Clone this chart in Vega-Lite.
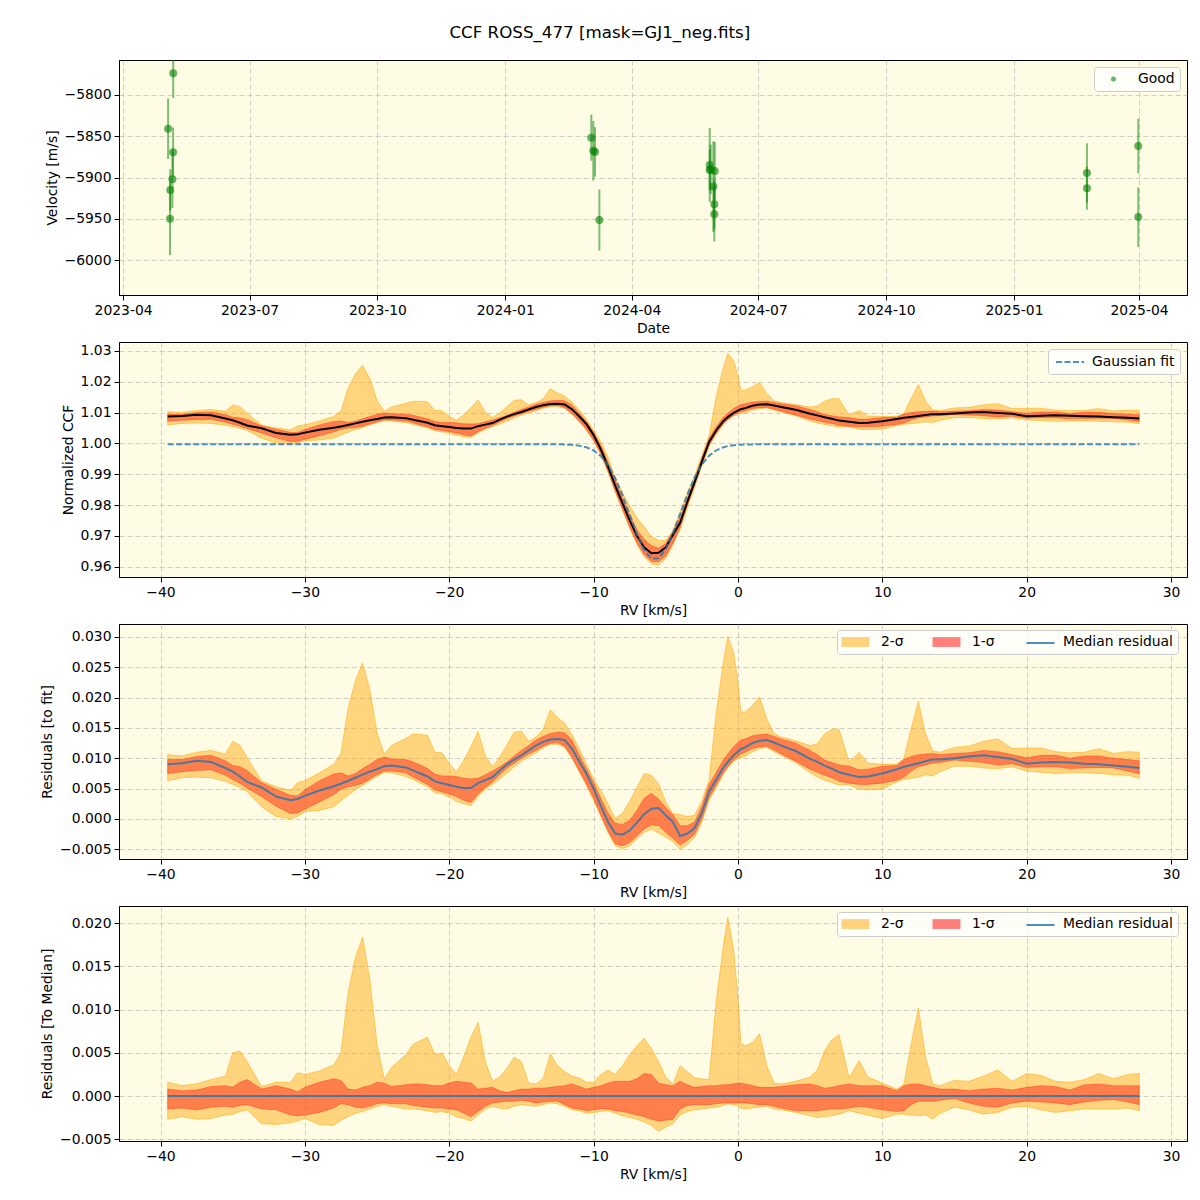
{
"$schema": "https://vega.github.io/schema/vega-lite/v6.json",
"autosize": {"type": "pad"},
"padding": {"left": 40, "top": 24, "right": 12, "bottom": 10},
"title": {"text": "CCF ROSS_477 [mask=GJ1_neg.fits]", "fontSize": 16.7, "fontWeight": "normal", "font": "DejaVu Sans", "color": "#000000", "anchor": "middle", "dx": -14, "offset": 18},
"spacing": 47,
"bounds": "flush",
"datasets": {
"rv": [
{"t":"2023-05-07T02:00:00Z","v":-5773.7,"lo":-5803.7,"hi":-5743.7},
{"t":"2023-05-03T10:00:00Z","v":-5841,"lo":-5877.5,"hi":-5804.5},
{"t":"2023-05-07T00:00:00Z","v":-5869.5,"lo":-5899.5,"hi":-5839.5},
{"t":"2023-05-06T12:00:00Z","v":-5902,"lo":-5937,"hi":-5867},
{"t":"2023-05-05T00:00:00Z","v":-5915,"lo":-5940,"hi":-5890},
{"t":"2023-05-04T19:00:00Z","v":-5950,"lo":-5994,"hi":-5906},
{"t":"2024-03-02T22:00:00Z","v":-5851.7,"lo":-5879.7,"hi":-5823.7},
{"t":"2024-03-04T08:00:00Z","v":-5867.5,"lo":-5903.5,"hi":-5831.5},
{"t":"2024-03-05T14:00:00Z","v":-5869,"lo":-5899,"hi":-5839},
{"t":"2024-03-08T17:00:00Z","v":-5951.5,"lo":-5988.5,"hi":-5914.5},
{"t":"2024-05-27T02:00:00Z","v":-5884.8,"lo":-5929.8,"hi":-5839.8},
{"t":"2024-05-27T19:00:00Z","v":-5890,"lo":-5920,"hi":-5860},
{"t":"2024-05-27T02:00:00Z","v":-5891,"lo":-5916,"hi":-5866},
{"t":"2024-05-30T17:00:00Z","v":-5892,"lo":-5927,"hi":-5857},
{"t":"2024-05-29T17:00:00Z","v":-5911,"lo":-5966,"hi":-5856},
{"t":"2024-05-30T10:00:00Z","v":-5932.5,"lo":-5962.5,"hi":-5902.5},
{"t":"2024-05-30T10:00:00Z","v":-5944.6,"lo":-5977.6,"hi":-5911.6},
{"t":"2025-02-22T12:00:00Z","v":-5894.5,"lo":-5930.5,"hi":-5858.5},
{"t":"2025-02-22T12:00:00Z","v":-5913,"lo":-5939,"hi":-5887},
{"t":"2025-03-31T10:00:00Z","v":-5861.8,"lo":-5894.8,"hi":-5828.8},
{"t":"2025-03-31T10:00:00Z","v":-5948,"lo":-5984,"hi":-5912}
],
"ccf": [
{"rv":-39.5,"f":0.9997,"c":1.0087,"c2l":1.0060,"c1l":1.0072,"c1h":1.0095,"c2h":1.0103,"r":0.0090,"r2l":0.0063,"r1l":0.0075,"r1h":0.0098,"r2h":0.0106,"d2l":-0.0027,"d1l":-0.0015,"d1h":0.0008,"d2h":0.0016,"z":0},
{"rv":-38.5,"f":0.9997,"c":1.0089,"c2l":1.0065,"c1l":1.0075,"c1h":1.0095,"c2h":1.0101,"r":0.0092,"r2l":0.0068,"r1l":0.0078,"r1h":0.0098,"r2h":0.0104,"d2l":-0.0024,"d1l":-0.0014,"d1h":0.0006,"d2h":0.0012,"z":0},
{"rv":-37.5,"f":0.9997,"c":1.0093,"c2l":1.0066,"c1l":1.0077,"c1h":1.0100,"c2h":1.0107,"r":0.0096,"r2l":0.0069,"r1l":0.0080,"r1h":0.0103,"r2h":0.0110,"d2l":-0.0027,"d1l":-0.0016,"d1h":0.0007,"d2h":0.0014,"z":0},
{"rv":-36.5,"f":0.9997,"c":1.0091,"c2l":1.0065,"c1l":1.0078,"c1h":1.0102,"c2h":1.0110,"r":0.0094,"r2l":0.0068,"r1l":0.0081,"r1h":0.0105,"r2h":0.0113,"d2l":-0.0026,"d1l":-0.0013,"d1h":0.0011,"d2h":0.0019,"z":0},
{"rv":-35.5,"f":0.9997,"c":1.0081,"c2l":1.0059,"c1l":1.0069,"c1h":1.0093,"c2h":1.0104,"r":0.0084,"r2l":0.0062,"r1l":0.0072,"r1h":0.0096,"r2h":0.0107,"d2l":-0.0022,"d1l":-0.0012,"d1h":0.0012,"d2h":0.0023,"z":0},
{"rv":-35,"f":0.9997,"c":1.0075,"c2l":1.0054,"c1l":1.0062,"c1h":1.0085,"c2h":1.0125,"r":0.0078,"r2l":0.0057,"r1l":0.0065,"r1h":0.0088,"r2h":0.0128,"d2l":-0.0021,"d1l":-0.0013,"d1h":0.0010,"d2h":0.0050,"z":0},
{"rv":-34.5,"f":0.9997,"c":1.0067,"c2l":1.0049,"c1l":1.0056,"c1h":1.0083,"c2h":1.0119,"r":0.0070,"r2l":0.0052,"r1l":0.0059,"r1h":0.0086,"r2h":0.0122,"d2l":-0.0018,"d1l":-0.0011,"d1h":0.0016,"d2h":0.0052,"z":0},
{"rv":-34,"f":0.9997,"c":1.0058,"c2l":1.0042,"c1l":1.0048,"c1h":1.0077,"c2h":1.0098,"r":0.0061,"r2l":0.0045,"r1l":0.0051,"r1h":0.0080,"r2h":0.0101,"d2l":-0.0016,"d1l":-0.0010,"d1h":0.0019,"d2h":0.0040,"z":0},
{"rv":-33,"f":0.9997,"c":1.0049,"c2l":1.0017,"c1l":1.0034,"c1h":1.0057,"c2h":1.0060,"r":0.0052,"r2l":0.0020,"r1l":0.0037,"r1h":0.0060,"r2h":0.0063,"d2l":-0.0032,"d1l":-0.0015,"d1h":0.0008,"d2h":0.0011,"z":0},
{"rv":-32,"f":0.9997,"c":1.0034,"c2l":1.0001,"c1l":1.0018,"c1h":1.0046,"c2h":1.0050,"r":0.0037,"r2l":0.0004,"r1l":0.0021,"r1h":0.0049,"r2h":0.0053,"d2l":-0.0033,"d1l":-0.0016,"d1h":0.0012,"d2h":0.0016,"z":0},
{"rv":-31,"f":0.9997,"c":1.0028,"c2l":0.9997,"c1l":1.0006,"c1h":1.0036,"c2h":1.0044,"r":0.0031,"r2l":0.0000,"r1l":0.0009,"r1h":0.0039,"r2h":0.0047,"d2l":-0.0031,"d1l":-0.0022,"d1h":0.0008,"d2h":0.0016,"z":0},
{"rv":-30.5,"f":0.9997,"c":1.0030,"c2l":1.0001,"c1l":1.0007,"c1h":1.0035,"c2h":1.0057,"r":0.0033,"r2l":0.0004,"r1l":0.0010,"r1h":0.0038,"r2h":0.0060,"d2l":-0.0029,"d1l":-0.0023,"d1h":0.0005,"d2h":0.0027,"z":0},
{"rv":-30,"f":0.9997,"c":1.0035,"c2l":1.0009,"c1l":1.0013,"c1h":1.0045,"c2h":1.0060,"r":0.0038,"r2l":0.0012,"r1l":0.0016,"r1h":0.0048,"r2h":0.0063,"d2l":-0.0026,"d1l":-0.0022,"d1h":0.0010,"d2h":0.0025,"z":0},
{"rv":-29,"f":0.9997,"c":1.0044,"c2l":1.0011,"c1l":1.0025,"c1h":1.0060,"c2h":1.0073,"r":0.0047,"r2l":0.0014,"r1l":0.0028,"r1h":0.0063,"r2h":0.0076,"d2l":-0.0033,"d1l":-0.0019,"d1h":0.0016,"d2h":0.0029,"z":0},
{"rv":-28,"f":0.9997,"c":1.0051,"c2l":1.0017,"c1l":1.0037,"c1h":1.0071,"c2h":1.0087,"r":0.0054,"r2l":0.0020,"r1l":0.0040,"r1h":0.0074,"r2h":0.0090,"d2l":-0.0034,"d1l":-0.0014,"d1h":0.0020,"d2h":0.0036,"z":0},
{"rv":-27.5,"f":0.9997,"c":1.0055,"c2l":1.0027,"c1l":1.0046,"c1h":1.0073,"c2h":1.0105,"r":0.0058,"r2l":0.0030,"r1l":0.0049,"r1h":0.0076,"r2h":0.0108,"d2l":-0.0028,"d1l":-0.0009,"d1h":0.0018,"d2h":0.0050,"z":0},
{"rv":-27,"f":0.9997,"c":1.0060,"c2l":1.0036,"c1l":1.0050,"c1h":1.0068,"c2h":1.0180,"r":0.0063,"r2l":0.0039,"r1l":0.0053,"r1h":0.0071,"r2h":0.0183,"d2l":-0.0024,"d1l":-0.0010,"d1h":0.0008,"d2h":0.0120,"z":0},
{"rv":-26.5,"f":0.9997,"c":1.0065,"c2l":1.0045,"c1l":1.0052,"c1h":1.0072,"c2h":1.0225,"r":0.0068,"r2l":0.0048,"r1l":0.0055,"r1h":0.0075,"r2h":0.0228,"d2l":-0.0020,"d1l":-0.0013,"d1h":0.0007,"d2h":0.0160,"z":0},
{"rv":-26,"f":0.9997,"c":1.0070,"c2l":1.0052,"c1l":1.0056,"c1h":1.0080,"c2h":1.0254,"r":0.0073,"r2l":0.0055,"r1l":0.0059,"r1h":0.0083,"r2h":0.0257,"d2l":-0.0018,"d1l":-0.0014,"d1h":0.0010,"d2h":0.0184,"z":0},
{"rv":-25.5,"f":0.9997,"c":1.0075,"c2l":1.0060,"c1l":1.0063,"c1h":1.0087,"c2h":1.0210,"r":0.0078,"r2l":0.0063,"r1l":0.0066,"r1h":0.0090,"r2h":0.0213,"d2l":-0.0015,"d1l":-0.0012,"d1h":0.0012,"d2h":0.0135,"z":0},
{"rv":-25,"f":0.9997,"c":1.0079,"c2l":1.0067,"c1l":1.0070,"c1h":1.0095,"c2h":1.0139,"r":0.0082,"r2l":0.0070,"r1l":0.0073,"r1h":0.0098,"r2h":0.0142,"d2l":-0.0012,"d1l":-0.0009,"d1h":0.0016,"d2h":0.0060,"z":0},
{"rv":-24.5,"f":0.9997,"c":1.0084,"c2l":1.0074,"c1l":1.0076,"c1h":1.0099,"c2h":1.0104,"r":0.0087,"r2l":0.0077,"r1l":0.0079,"r1h":0.0102,"r2h":0.0107,"d2l":-0.0010,"d1l":-0.0008,"d1h":0.0015,"d2h":0.0020,"z":0},
{"rv":-24,"f":0.9997,"c":1.0085,"c2l":1.0073,"c1l":1.0076,"c1h":1.0096,"c2h":1.0118,"r":0.0088,"r2l":0.0076,"r1l":0.0079,"r1h":0.0099,"r2h":0.0121,"d2l":-0.0012,"d1l":-0.0009,"d1h":0.0011,"d2h":0.0033,"z":0},
{"rv":-23,"f":0.9997,"c":1.0082,"c2l":1.0067,"c1l":1.0073,"c1h":1.0095,"c2h":1.0130,"r":0.0085,"r2l":0.0070,"r1l":0.0076,"r1h":0.0098,"r2h":0.0133,"d2l":-0.0015,"d1l":-0.0009,"d1h":0.0013,"d2h":0.0048,"z":0},
{"rv":-22.5,"f":0.9997,"c":1.0077,"c2l":1.0062,"c1l":1.0066,"c1h":1.0091,"c2h":1.0137,"r":0.0080,"r2l":0.0065,"r1l":0.0069,"r1h":0.0094,"r2h":0.0140,"d2l":-0.0015,"d1l":-0.0011,"d1h":0.0014,"d2h":0.0060,"z":0},
{"rv":-22,"f":0.9997,"c":1.0072,"c2l":1.0056,"c1l":1.0060,"c1h":1.0086,"c2h":1.0136,"r":0.0075,"r2l":0.0059,"r1l":0.0063,"r1h":0.0089,"r2h":0.0139,"d2l":-0.0016,"d1l":-0.0012,"d1h":0.0014,"d2h":0.0064,"z":0},
{"rv":-21.5,"f":0.9997,"c":1.0067,"c2l":1.0050,"c1l":1.0054,"c1h":1.0080,"c2h":1.0135,"r":0.0070,"r2l":0.0053,"r1l":0.0057,"r1h":0.0083,"r2h":0.0138,"d2l":-0.0017,"d1l":-0.0013,"d1h":0.0013,"d2h":0.0068,"z":0},
{"rv":-21,"f":0.9997,"c":1.0059,"c2l":1.0040,"c1l":1.0045,"c1h":1.0071,"c2h":1.0107,"r":0.0062,"r2l":0.0043,"r1l":0.0048,"r1h":0.0074,"r2h":0.0110,"d2l":-0.0019,"d1l":-0.0014,"d1h":0.0012,"d2h":0.0048,"z":0},
{"rv":-20.5,"f":0.9997,"c":1.0056,"c2l":1.0038,"c1l":1.0042,"c1h":1.0068,"c2h":1.0106,"r":0.0059,"r2l":0.0041,"r1l":0.0045,"r1h":0.0071,"r2h":0.0109,"d2l":-0.0018,"d1l":-0.0014,"d1h":0.0012,"d2h":0.0050,"z":0},
{"rv":-20,"f":0.9997,"c":1.0053,"c2l":1.0033,"c1l":1.0038,"c1h":1.0068,"c2h":1.0088,"r":0.0056,"r2l":0.0036,"r1l":0.0041,"r1h":0.0071,"r2h":0.0091,"d2l":-0.0020,"d1l":-0.0015,"d1h":0.0015,"d2h":0.0035,"z":0},
{"rv":-19.5,"f":0.9997,"c":1.0050,"c2l":1.0026,"c1l":1.0034,"c1h":1.0067,"c2h":1.0075,"r":0.0053,"r2l":0.0029,"r1l":0.0037,"r1h":0.0070,"r2h":0.0078,"d2l":-0.0024,"d1l":-0.0016,"d1h":0.0017,"d2h":0.0025,"z":0},
{"rv":-19,"f":0.9997,"c":1.0048,"c2l":1.0022,"c1l":1.0028,"c1h":1.0064,"c2h":1.0093,"r":0.0051,"r2l":0.0025,"r1l":0.0031,"r1h":0.0067,"r2h":0.0096,"d2l":-0.0026,"d1l":-0.0020,"d1h":0.0016,"d2h":0.0045,"z":0},
{"rv":-18.5,"f":0.9997,"c":1.0048,"c2l":1.0019,"c1l":1.0024,"c1h":1.0063,"c2h":1.0116,"r":0.0051,"r2l":0.0022,"r1l":0.0027,"r1h":0.0066,"r2h":0.0119,"d2l":-0.0029,"d1l":-0.0024,"d1h":0.0015,"d2h":0.0068,"z":0},
{"rv":-18,"f":0.9997,"c":1.0056,"c2l":1.0034,"c1l":1.0038,"c1h":1.0064,"c2h":1.0141,"r":0.0059,"r2l":0.0037,"r1l":0.0041,"r1h":0.0067,"r2h":0.0144,"d2l":-0.0022,"d1l":-0.0018,"d1h":0.0008,"d2h":0.0085,"z":0},
{"rv":-17.5,"f":0.9997,"c":1.0061,"c2l":1.0046,"c1l":1.0049,"c1h":1.0070,"c2h":1.0101,"r":0.0064,"r2l":0.0049,"r1l":0.0052,"r1h":0.0073,"r2h":0.0104,"d2l":-0.0015,"d1l":-0.0012,"d1h":0.0009,"d2h":0.0040,"z":0},
{"rv":-17,"f":0.9997,"c":1.0066,"c2l":1.0054,"c1l":1.0058,"c1h":1.0076,"c2h":1.0083,"r":0.0069,"r2l":0.0057,"r1l":0.0061,"r1h":0.0079,"r2h":0.0086,"d2l":-0.0012,"d1l":-0.0008,"d1h":0.0010,"d2h":0.0017,"z":0},
{"rv":-16.5,"f":0.9997,"c":1.0077,"c2l":1.0063,"c1l":1.0070,"c1h":1.0083,"c2h":1.0099,"r":0.0080,"r2l":0.0066,"r1l":0.0073,"r1h":0.0086,"r2h":0.0102,"d2l":-0.0014,"d1l":-0.0007,"d1h":0.0006,"d2h":0.0022,"z":0},
{"rv":-16,"f":0.9997,"c":1.0087,"c2l":1.0072,"c1l":1.0081,"c1h":1.0091,"c2h":1.0119,"r":0.0090,"r2l":0.0075,"r1l":0.0084,"r1h":0.0094,"r2h":0.0122,"d2l":-0.0015,"d1l":-0.0006,"d1h":0.0004,"d2h":0.0032,"z":0},
{"rv":-15.5,"f":0.9997,"c":1.0095,"c2l":1.0083,"c1l":1.0089,"c1h":1.0101,"c2h":1.0140,"r":0.0098,"r2l":0.0086,"r1l":0.0092,"r1h":0.0104,"r2h":0.0143,"d2l":-0.0012,"d1l":-0.0006,"d1h":0.0006,"d2h":0.0045,"z":0},
{"rv":-15,"f":0.9997,"c":1.0102,"c2l":1.0092,"c1l":1.0097,"c1h":1.0110,"c2h":1.0142,"r":0.0105,"r2l":0.0095,"r1l":0.0100,"r1h":0.0113,"r2h":0.0145,"d2l":-0.0010,"d1l":-0.0005,"d1h":0.0008,"d2h":0.0040,"z":0},
{"rv":-14.5,"f":0.9997,"c":1.0110,"c2l":1.0099,"c1l":1.0104,"c1h":1.0118,"c2h":1.0125,"r":0.0113,"r2l":0.0102,"r1l":0.0107,"r1h":0.0121,"r2h":0.0128,"d2l":-0.0011,"d1l":-0.0006,"d1h":0.0008,"d2h":0.0015,"z":0},
{"rv":-14,"f":0.9997,"c":1.0118,"c2l":1.0106,"c1l":1.0110,"c1h":1.0127,"c2h":1.0132,"r":0.0121,"r2l":0.0109,"r1l":0.0113,"r1h":0.0130,"r2h":0.0135,"d2l":-0.0012,"d1l":-0.0008,"d1h":0.0009,"d2h":0.0014,"z":0},
{"rv":-13.5,"f":0.9997,"c":1.0124,"c2l":1.0114,"c1l":1.0117,"c1h":1.0133,"c2h":1.0144,"r":0.0127,"r2l":0.0117,"r1l":0.0120,"r1h":0.0136,"r2h":0.0147,"d2l":-0.0010,"d1l":-0.0007,"d1h":0.0009,"d2h":0.0020,"z":0},
{"rv":-13,"f":0.9997,"c":1.0128,"c2l":1.0120,"c1l":1.0122,"c1h":1.0138,"c2h":1.0177,"r":0.0131,"r2l":0.0123,"r1l":0.0125,"r1h":0.0141,"r2h":0.0180,"d2l":-0.0008,"d1l":-0.0006,"d1h":0.0010,"d2h":0.0049,"z":0},
{"rv":-12.5,"f":0.9997,"c":1.0129,"c2l":1.0120,"c1l":1.0123,"c1h":1.0140,"c2h":1.0164,"r":0.0132,"r2l":0.0123,"r1l":0.0126,"r1h":0.0143,"r2h":0.0167,"d2l":-0.0009,"d1l":-0.0006,"d1h":0.0011,"d2h":0.0035,"z":0},
{"rv":-12,"f":0.99964,"c":1.0126,"c2l":1.0114,"c1l":1.0116,"c1h":1.0138,"c2h":1.0154,"r":0.0130,"r2l":0.0118,"r1l":0.0120,"r1h":0.0142,"r2h":0.0158,"d2l":-0.0012,"d1l":-0.0010,"d1h":0.0012,"d2h":0.0028,"z":0},
{"rv":-11.5,"f":0.99953,"c":1.0111,"c2l":1.0095,"c1l":1.0097,"c1h":1.0125,"c2h":1.0134,"r":0.0116,"r2l":0.0100,"r1l":0.0102,"r1h":0.0130,"r2h":0.0139,"d2l":-0.0016,"d1l":-0.0014,"d1h":0.0014,"d2h":0.0023,"z":0},
{"rv":-11,"f":0.99928,"c":1.0088,"c2l":1.0071,"c1l":1.0073,"c1h":1.0099,"c2h":1.0109,"r":0.0095,"r2l":0.0078,"r1l":0.0080,"r1h":0.0106,"r2h":0.0116,"d2l":-0.0017,"d1l":-0.0015,"d1h":0.0011,"d2h":0.0021,"z":0},
{"rv":-10.5,"f":0.99875,"c":1.0063,"c2l":1.0043,"c1l":1.0046,"c1h":1.0071,"c2h":1.0079,"r":0.0075,"r2l":0.0055,"r1l":0.0058,"r1h":0.0083,"r2h":0.0091,"d2l":-0.0020,"d1l":-0.0017,"d1h":0.0008,"d2h":0.0016,"z":0},
{"rv":-10,"f":0.99771,"c":1.0027,"c2l":1.0008,"c1l":1.0011,"c1h":1.0037,"c2h":1.0043,"r":0.0050,"r2l":0.0031,"r1l":0.0034,"r1h":0.0060,"r2h":0.0066,"d2l":-0.0019,"d1l":-0.0016,"d1h":0.0010,"d2h":0.0016,"z":0},
{"rv":-9.5,"f":0.99589,"c":0.9981,"c2l":0.9963,"c1l":0.9966,"c1h":0.9993,"c2h":1.0006,"r":0.0022,"r2l":0.0004,"r1l":0.0007,"r1h":0.0034,"r2h":0.0047,"d2l":-0.0018,"d1l":-0.0015,"d1h":0.0012,"d2h":0.0025,"z":0},
{"rv":-9,"f":0.99296,"c":0.9925,"c2l":0.9908,"c1l":0.9910,"c1h":0.9940,"c2h":0.9955,"r":-0.0005,"r2l":-0.0022,"r1l":-0.0020,"r1h":0.0010,"r2h":0.0025,"d2l":-0.0017,"d1l":-0.0015,"d1h":0.0015,"d2h":0.0030,"z":0},
{"rv":-8.5,"f":0.98872,"c":0.9863,"c2l":0.9843,"c1l":0.9846,"c1h":0.9880,"c2h":0.9888,"r":-0.0024,"r2l":-0.0044,"r1l":-0.0041,"r1h":-0.0007,"r2h":0.0001,"d2l":-0.0020,"d1l":-0.0017,"d1h":0.0017,"d2h":0.0025,"z":0},
{"rv":-8,"f":0.98321,"c":0.9806,"c2l":0.9783,"c1l":0.9788,"c1h":0.9823,"c2h":0.9841,"r":-0.0026,"r2l":-0.0049,"r1l":-0.0044,"r1h":-0.0009,"r2h":0.0009,"d2l":-0.0023,"d1l":-0.0018,"d1h":0.0017,"d2h":0.0035,"z":0},
{"rv":-7.5,"f":0.97689,"c":0.9750,"c2l":0.9725,"c1l":0.9730,"c1h":0.9767,"c2h":0.9798,"r":-0.0019,"r2l":-0.0044,"r1l":-0.0039,"r1h":-0.0002,"r2h":0.0029,"d2l":-0.0025,"d1l":-0.0020,"d1h":0.0017,"d2h":0.0048,"z":0},
{"rv":-7,"f":0.97060,"c":0.9700,"c2l":0.9673,"c1l":0.9678,"c1h":0.9720,"c2h":0.9758,"r":-0.0006,"r2l":-0.0033,"r1l":-0.0028,"r1h":0.0014,"r2h":0.0052,"d2l":-0.0027,"d1l":-0.0022,"d1h":0.0020,"d2h":0.0058,"z":0},
{"rv":-6.5,"f":0.96550,"c":0.9663,"c2l":0.9633,"c1l":0.9639,"c1h":0.9689,"c2h":0.9730,"r":0.0008,"r2l":-0.0022,"r1l":-0.0016,"r1h":0.0034,"r2h":0.0075,"d2l":-0.0030,"d1l":-0.0024,"d1h":0.0026,"d2h":0.0067,"z":0},
{"rv":-6,"f":0.96265,"c":0.96435,"c2l":0.96095,"c1l":0.96165,"c1h":0.96685,"c2h":0.96985,"r":0.0017,"r2l":-0.0017,"r1l":-0.0010,"r1h":0.0042,"r2h":0.0072,"d2l":-0.0034,"d1l":-0.0027,"d1h":0.0025,"d2h":0.0055,"z":0},
{"rv":-5.5,"f":0.96271,"c":0.96451,"c2l":0.96041,"c1l":0.96161,"c1h":0.96601,"c2h":0.96851,"r":0.0018,"r2l":-0.0023,"r1l":-0.0011,"r1h":0.0033,"r2h":0.0058,"d2l":-0.0041,"d1l":-0.0029,"d1h":0.0015,"d2h":0.0040,"z":0},
{"rv":-5,"f":0.96567,"c":0.96627,"c2l":0.96267,"c1l":0.96347,"c1h":0.96757,"c2h":0.96847,"r":0.0006,"r2l":-0.0030,"r1l":-0.0022,"r1h":0.0019,"r2h":0.0028,"d2l":-0.0036,"d1l":-0.0028,"d1h":0.0013,"d2h":0.0022,"z":0},
{"rv":-4.5,"f":0.97084,"c":0.97034,"c2l":0.96714,"c1l":0.96764,"c1h":0.97154,"c2h":0.97174,"r":-0.0005,"r2l":-0.0037,"r1l":-0.0032,"r1h":0.0007,"r2h":0.0009,"d2l":-0.0032,"d1l":-0.0027,"d1h":0.0012,"d2h":0.0014,"z":0},
{"rv":-4,"f":0.97714,"c":0.97434,"c2l":0.97214,"c1l":0.97284,"c1h":0.97604,"c2h":0.97784,"r":-0.0028,"r2l":-0.0050,"r1l":-0.0043,"r1h":-0.0011,"r2h":0.0007,"d2l":-0.0022,"d1l":-0.0015,"d1h":0.0017,"d2h":0.0035,"z":0},
{"rv":-3.5,"f":0.98346,"c":0.98106,"c2l":0.97926,"c1l":0.97996,"c1h":0.98236,"c2h":0.98386,"r":-0.0024,"r2l":-0.0042,"r1l":-0.0035,"r1h":-0.0011,"r2h":0.0004,"d2l":-0.0018,"d1l":-0.0011,"d1h":0.0013,"d2h":0.0028,"z":0},
{"rv":-3,"f":0.98892,"c":0.98742,"c2l":0.98582,"c1l":0.98642,"c1h":0.98842,"c2h":0.98952,"r":-0.0015,"r2l":-0.0031,"r1l":-0.0025,"r1h":-0.0005,"r2h":0.0006,"d2l":-0.0016,"d1l":-0.0010,"d1h":0.0010,"d2h":0.0021,"z":0},
{"rv":-2.5,"f":0.99310,"c":0.99410,"c2l":0.99260,"c1l":0.99310,"c1h":0.99520,"c2h":0.99610,"r":0.0010,"r2l":-0.0005,"r1l":0.0000,"r1h":0.0021,"r2h":0.0030,"d2l":-0.0015,"d1l":-0.0010,"d1h":0.0011,"d2h":0.0020,"z":0},
{"rv":-2,"f":0.99598,"c":1.00048,"c2l":0.99908,"c1l":0.99948,"c1h":1.00168,"c2h":1.00238,"r":0.0045,"r2l":0.0031,"r1l":0.0035,"r1h":0.0057,"r2h":0.0064,"d2l":-0.0014,"d1l":-0.0010,"d1h":0.0012,"d2h":0.0019,"z":0},
{"rv":-1.5,"f":0.99777,"c":1.00427,"c2l":1.00297,"c1l":1.00337,"c1h":1.00547,"c2h":1.01527,"r":0.0065,"r2l":0.0052,"r1l":0.0056,"r1h":0.0077,"r2h":0.0175,"d2l":-0.0013,"d1l":-0.0009,"d1h":0.0012,"d2h":0.0110,"z":0},
{"rv":-1,"f":0.99877,"c":1.00727,"c2l":1.00617,"c1l":1.00647,"c1h":1.00857,"c2h":1.02477,"r":0.0085,"r2l":0.0074,"r1l":0.0077,"r1h":0.0098,"r2h":0.0260,"d2l":-0.0011,"d1l":-0.0008,"d1h":0.0013,"d2h":0.0175,"z":0},
{"rv":-0.7,"f":0.99913,"c":1.00853,"c2l":1.00763,"c1l":1.00773,"c1h":1.00983,"c2h":1.02923,"r":0.0094,"r2l":0.0085,"r1l":0.0086,"r1h":0.0107,"r2h":0.0301,"d2l":-0.0009,"d1l":-0.0008,"d1h":0.0013,"d2h":0.0207,"z":0},
{"rv":-0.3,"f":0.99941,"c":1.00991,"c2l":1.00891,"c1l":1.00911,"c1h":1.01131,"c2h":1.02691,"r":0.0105,"r2l":0.0095,"r1l":0.0097,"r1h":0.0119,"r2h":0.0275,"d2l":-0.0010,"d1l":-0.0008,"d1h":0.0014,"d2h":0.0170,"z":0},
{"rv":0,"f":0.99953,"c":1.01063,"c2l":1.00943,"c1l":1.00983,"c1h":1.01213,"c2h":1.02213,"r":0.0111,"r2l":0.0099,"r1l":0.0103,"r1h":0.0126,"r2h":0.0226,"d2l":-0.0012,"d1l":-0.0008,"d1h":0.0015,"d2h":0.0115,"z":0},
{"rv":0.2,"f":0.99959,"c":1.01109,"c2l":1.00969,"c1l":1.01029,"c1h":1.01259,"c2h":1.01729,"r":0.0115,"r2l":0.0101,"r1l":0.0107,"r1h":0.0130,"r2h":0.0177,"d2l":-0.0014,"d1l":-0.0008,"d1h":0.0015,"d2h":0.0062,"z":0},
{"rv":0.5,"f":0.99964,"c":1.01144,"c2l":1.00994,"c1l":1.01064,"c1h":1.01284,"c2h":1.01724,"r":0.0118,"r2l":0.0103,"r1l":0.0110,"r1h":0.0132,"r2h":0.0176,"d2l":-0.0015,"d1l":-0.0008,"d1h":0.0014,"d2h":0.0058,"z":0},
{"rv":1,"f":0.99968,"c":1.0122,"c2l":1.0108,"c1l":1.0113,"c1h":1.0134,"c2h":1.0184,"r":0.0125,"r2l":0.0111,"r1l":0.0116,"r1h":0.0137,"r2h":0.0187,"d2l":-0.0014,"d1l":-0.0009,"d1h":0.0012,"d2h":0.0062,"z":0},
{"rv":1.5,"f":0.9997,"c":1.0126,"c2l":1.0113,"c1l":1.0116,"c1h":1.0136,"c2h":1.0198,"r":0.0129,"r2l":0.0116,"r1l":0.0119,"r1h":0.0139,"r2h":0.0201,"d2l":-0.0013,"d1l":-0.0010,"d1h":0.0010,"d2h":0.0072,"z":0},
{"rv":2,"f":0.9997,"c":1.0127,"c2l":1.0115,"c1l":1.0117,"c1h":1.0137,"c2h":1.0162,"r":0.0130,"r2l":0.0118,"r1l":0.0120,"r1h":0.0140,"r2h":0.0165,"d2l":-0.0012,"d1l":-0.0010,"d1h":0.0010,"d2h":0.0035,"z":0},
{"rv":2.5,"f":0.9997,"c":1.0123,"c2l":1.0108,"c1l":1.0111,"c1h":1.0133,"c2h":1.0138,"r":0.0126,"r2l":0.0111,"r1l":0.0114,"r1h":0.0136,"r2h":0.0141,"d2l":-0.0015,"d1l":-0.0012,"d1h":0.0010,"d2h":0.0015,"z":0},
{"rv":3,"f":0.9997,"c":1.0118,"c2l":1.0102,"c1l":1.0104,"c1h":1.0129,"c2h":1.0132,"r":0.0121,"r2l":0.0105,"r1l":0.0107,"r1h":0.0132,"r2h":0.0135,"d2l":-0.0016,"d1l":-0.0014,"d1h":0.0011,"d2h":0.0014,"z":0},
{"rv":4,"f":0.9997,"c":1.0109,"c2l":1.0090,"c1l":1.0092,"c1h":1.0122,"c2h":1.0126,"r":0.0112,"r2l":0.0093,"r1l":0.0095,"r1h":0.0125,"r2h":0.0129,"d2l":-0.0019,"d1l":-0.0017,"d1h":0.0013,"d2h":0.0017,"z":0},
{"rv":5,"f":0.9997,"c":1.0096,"c2l":1.0073,"c1l":1.0079,"c1h":1.0110,"c2h":1.0118,"r":0.0099,"r2l":0.0076,"r1l":0.0082,"r1h":0.0113,"r2h":0.0121,"d2l":-0.0023,"d1l":-0.0017,"d1h":0.0014,"d2h":0.0022,"z":0},
{"rv":5.5,"f":0.9997,"c":1.0091,"c2l":1.0066,"c1l":1.0074,"c1h":1.0103,"c2h":1.0121,"r":0.0094,"r2l":0.0069,"r1l":0.0077,"r1h":0.0106,"r2h":0.0124,"d2l":-0.0025,"d1l":-0.0017,"d1h":0.0012,"d2h":0.0030,"z":0},
{"rv":6,"f":0.9997,"c":1.0085,"c2l":1.0061,"c1l":1.0069,"c1h":1.0094,"c2h":1.0137,"r":0.0088,"r2l":0.0064,"r1l":0.0072,"r1h":0.0097,"r2h":0.0140,"d2l":-0.0024,"d1l":-0.0016,"d1h":0.0009,"d2h":0.0052,"z":0},
{"rv":6.5,"f":0.9997,"c":1.0080,"c2l":1.0057,"c1l":1.0065,"c1h":1.0090,"c2h":1.0145,"r":0.0083,"r2l":0.0060,"r1l":0.0068,"r1h":0.0093,"r2h":0.0148,"d2l":-0.0023,"d1l":-0.0015,"d1h":0.0010,"d2h":0.0065,"z":0},
{"rv":7,"f":0.9997,"c":1.0074,"c2l":1.0053,"c1l":1.0059,"c1h":1.0086,"c2h":1.0145,"r":0.0077,"r2l":0.0056,"r1l":0.0062,"r1h":0.0089,"r2h":0.0148,"d2l":-0.0021,"d1l":-0.0015,"d1h":0.0012,"d2h":0.0071,"z":0},
{"rv":7.7,"f":0.9997,"c":1.0070,"c2l":1.0053,"c1l":1.0056,"c1h":1.0084,"c2h":1.0091,"r":0.0073,"r2l":0.0056,"r1l":0.0059,"r1h":0.0087,"r2h":0.0094,"d2l":-0.0017,"d1l":-0.0014,"d1h":0.0014,"d2h":0.0021,"z":0},
{"rv":8.4,"f":0.9997,"c":1.0066,"c2l":1.0046,"c1l":1.0054,"c1h":1.0078,"c2h":1.0107,"r":0.0069,"r2l":0.0049,"r1l":0.0057,"r1h":0.0081,"r2h":0.0110,"d2l":-0.0020,"d1l":-0.0012,"d1h":0.0012,"d2h":0.0041,"z":0},
{"rv":9,"f":0.9997,"c":1.0067,"c2l":1.0045,"c1l":1.0054,"c1h":1.0079,"c2h":1.0089,"r":0.0070,"r2l":0.0048,"r1l":0.0057,"r1h":0.0082,"r2h":0.0092,"d2l":-0.0022,"d1l":-0.0013,"d1h":0.0012,"d2h":0.0022,"z":0},
{"rv":10,"f":0.9997,"c":1.0072,"c2l":1.0046,"c1l":1.0056,"c1h":1.0084,"c2h":1.0087,"r":0.0075,"r2l":0.0049,"r1l":0.0059,"r1h":0.0087,"r2h":0.0090,"d2l":-0.0026,"d1l":-0.0016,"d1h":0.0012,"d2h":0.0015,"z":0},
{"rv":11,"f":0.9997,"c":1.0079,"c2l":1.0058,"c1l":1.0061,"c1h":1.0085,"c2h":1.0087,"r":0.0082,"r2l":0.0061,"r1l":0.0064,"r1h":0.0088,"r2h":0.0090,"d2l":-0.0021,"d1l":-0.0018,"d1h":0.0006,"d2h":0.0008,"z":0},
{"rv":11.5,"f":0.9997,"c":1.0083,"c2l":1.0062,"c1l":1.0066,"c1h":1.0095,"c2h":1.0097,"r":0.0086,"r2l":0.0065,"r1l":0.0069,"r1h":0.0098,"r2h":0.0100,"d2l":-0.0021,"d1l":-0.0017,"d1h":0.0012,"d2h":0.0014,"z":0},
{"rv":12,"f":0.9997,"c":1.0086,"c2l":1.0064,"c1l":1.0076,"c1h":1.0100,"c2h":1.0146,"r":0.0089,"r2l":0.0067,"r1l":0.0079,"r1h":0.0103,"r2h":0.0149,"d2l":-0.0022,"d1l":-0.0010,"d1h":0.0014,"d2h":0.0060,"z":0},
{"rv":12.5,"f":0.9997,"c":1.0089,"c2l":1.0066,"c1l":1.0083,"c1h":1.0103,"c2h":1.0191,"r":0.0092,"r2l":0.0069,"r1l":0.0086,"r1h":0.0106,"r2h":0.0194,"d2l":-0.0023,"d1l":-0.0006,"d1h":0.0014,"d2h":0.0102,"z":0},
{"rv":13,"f":0.9997,"c":1.0092,"c2l":1.0070,"c1l":1.0086,"c1h":1.0104,"c2h":1.0137,"r":0.0095,"r2l":0.0073,"r1l":0.0089,"r1h":0.0107,"r2h":0.0140,"d2l":-0.0022,"d1l":-0.0006,"d1h":0.0012,"d2h":0.0045,"z":0},
{"rv":13.5,"f":0.9997,"c":1.0095,"c2l":1.0068,"c1l":1.0089,"c1h":1.0105,"c2h":1.0109,"r":0.0098,"r2l":0.0071,"r1l":0.0092,"r1h":0.0108,"r2h":0.0112,"d2l":-0.0027,"d1l":-0.0006,"d1h":0.0010,"d2h":0.0014,"z":0},
{"rv":14,"f":0.9997,"c":1.0095,"c2l":1.0075,"c1l":1.0090,"c1h":1.0103,"c2h":1.0107,"r":0.0098,"r2l":0.0078,"r1l":0.0093,"r1h":0.0106,"r2h":0.0110,"d2l":-0.0020,"d1l":-0.0005,"d1h":0.0008,"d2h":0.0012,"z":0},
{"rv":15,"f":0.9997,"c":1.0097,"c2l":1.0084,"c1l":1.0094,"c1h":1.0105,"c2h":1.0115,"r":0.0100,"r2l":0.0087,"r1l":0.0097,"r1h":0.0108,"r2h":0.0118,"d2l":-0.0013,"d1l":-0.0003,"d1h":0.0008,"d2h":0.0018,"z":0},
{"rv":16,"f":0.9997,"c":1.0100,"c2l":1.0084,"c1l":1.0092,"c1h":1.0106,"c2h":1.0117,"r":0.0103,"r2l":0.0087,"r1l":0.0095,"r1h":0.0109,"r2h":0.0120,"d2l":-0.0016,"d1l":-0.0008,"d1h":0.0006,"d2h":0.0017,"z":0},
{"rv":17,"f":0.9997,"c":1.0102,"c2l":1.0081,"c1l":1.0090,"c1h":1.0110,"c2h":1.0125,"r":0.0105,"r2l":0.0084,"r1l":0.0093,"r1h":0.0113,"r2h":0.0128,"d2l":-0.0021,"d1l":-0.0012,"d1h":0.0008,"d2h":0.0023,"z":0},
{"rv":18,"f":0.9997,"c":1.0099,"c2l":1.0080,"c1l":1.0086,"c1h":1.0108,"c2h":1.0129,"r":0.0102,"r2l":0.0083,"r1l":0.0089,"r1h":0.0111,"r2h":0.0132,"d2l":-0.0019,"d1l":-0.0013,"d1h":0.0009,"d2h":0.0030,"z":0},
{"rv":19,"f":0.9997,"c":1.0096,"c2l":1.0083,"c1l":1.0088,"c1h":1.0103,"c2h":1.0113,"r":0.0099,"r2l":0.0086,"r1l":0.0091,"r1h":0.0106,"r2h":0.0116,"d2l":-0.0013,"d1l":-0.0008,"d1h":0.0007,"d2h":0.0017,"z":0},
{"rv":20,"f":0.9997,"c":1.0088,"c2l":1.0076,"c1l":1.0082,"c1h":1.0098,"c2h":1.0114,"r":0.0091,"r2l":0.0079,"r1l":0.0085,"r1h":0.0101,"r2h":0.0117,"d2l":-0.0012,"d1l":-0.0006,"d1h":0.0010,"d2h":0.0026,"z":0},
{"rv":21,"f":0.9997,"c":1.0090,"c2l":1.0074,"c1l":1.0083,"c1h":1.0102,"c2h":1.0114,"r":0.0093,"r2l":0.0077,"r1l":0.0086,"r1h":0.0105,"r2h":0.0117,"d2l":-0.0016,"d1l":-0.0007,"d1h":0.0012,"d2h":0.0024,"z":0},
{"rv":22,"f":0.9997,"c":1.0091,"c2l":1.0072,"c1l":1.0083,"c1h":1.0102,"c2h":1.0108,"r":0.0094,"r2l":0.0075,"r1l":0.0086,"r1h":0.0105,"r2h":0.0111,"d2l":-0.0019,"d1l":-0.0008,"d1h":0.0011,"d2h":0.0017,"z":0},
{"rv":23,"f":0.9997,"c":1.0090,"c2l":1.0073,"c1l":1.0080,"c1h":1.0097,"c2h":1.0106,"r":0.0093,"r2l":0.0076,"r1l":0.0083,"r1h":0.0100,"r2h":0.0109,"d2l":-0.0017,"d1l":-0.0010,"d1h":0.0007,"d2h":0.0016,"z":0},
{"rv":24,"f":0.9997,"c":1.0088,"c2l":1.0073,"c1l":1.0081,"c1h":1.0101,"c2h":1.0107,"r":0.0091,"r2l":0.0076,"r1l":0.0084,"r1h":0.0104,"r2h":0.0110,"d2l":-0.0015,"d1l":-0.0007,"d1h":0.0013,"d2h":0.0019,"z":0},
{"rv":25,"f":0.9997,"c":1.0087,"c2l":1.0072,"c1l":1.0082,"c1h":1.0101,"c2h":1.0113,"r":0.0090,"r2l":0.0075,"r1l":0.0085,"r1h":0.0104,"r2h":0.0116,"d2l":-0.0015,"d1l":-0.0005,"d1h":0.0014,"d2h":0.0026,"z":0},
{"rv":26,"f":0.9997,"c":1.0085,"c2l":1.0070,"c1l":1.0081,"c1h":1.0097,"c2h":1.0105,"r":0.0088,"r2l":0.0073,"r1l":0.0084,"r1h":0.0100,"r2h":0.0108,"d2l":-0.0015,"d1l":-0.0004,"d1h":0.0012,"d2h":0.0020,"z":0},
{"rv":27,"f":0.9997,"c":1.0083,"c2l":1.0069,"c1l":1.0076,"c1h":1.0095,"c2h":1.0108,"r":0.0086,"r2l":0.0072,"r1l":0.0079,"r1h":0.0098,"r2h":0.0111,"d2l":-0.0014,"d1l":-0.0007,"d1h":0.0012,"d2h":0.0025,"z":0},
{"rv":27.8,"f":0.9997,"c":1.0081,"c2l":1.0064,"c1l":1.0071,"c1h":1.0093,"c2h":1.0107,"r":0.0084,"r2l":0.0067,"r1l":0.0074,"r1h":0.0096,"r2h":0.0110,"d2l":-0.0017,"d1l":-0.0010,"d1h":0.0012,"d2h":0.0026,"z":0}
]
},
"vconcat": [
{
"width": 1068, "height": 235,
"data": {"name": "rv"},
"layer": [
{"mark": {"type": "rule", "color": "green", "opacity": 0.5, "strokeWidth": 2, "clip": true},
 "encoding": {
  "x": {"field": "t", "type": "temporal", "scale": {"type": "utc", "domain": [{"year": 2023, "month": 3, "date": 29, "hours": 2, "utc": true}, {"year": 2025, "month": 5, "date": 5, "hours": 12, "utc": true}]},
        "axis": {"title": "Date", "labelExpr": "utcFormat(datum.value, '%Y-%m')", "values": [
          {"year": 2023, "month": 4, "date": 1, "utc": true}, {"year": 2023, "month": 7, "date": 1, "utc": true}, {"year": 2023, "month": 10, "date": 1, "utc": true},
          {"year": 2024, "month": 1, "date": 1, "utc": true}, {"year": 2024, "month": 4, "date": 1, "utc": true}, {"year": 2024, "month": 7, "date": 1, "utc": true},
          {"year": 2024, "month": 10, "date": 1, "utc": true}, {"year": 2025, "month": 1, "date": 1, "utc": true}, {"year": 2025, "month": 4, "date": 1, "utc": true}], "tickCount": 20}},
  "y": {"field": "lo", "type": "quantitative", "scale": {"domain": [-6042.4, -5757.6], "nice": false, "zero": false}, "axis": {"title": "Velocity [m/s]", "values": [-6000, -5950, -5900, -5850, -5800], "tickCount": 10, "format": "d"}},
  "y2": {"field": "hi"}
 }},
{"mark": {"type": "point", "filled": true, "size": 64, "opacity": 0.6, "clip": true},
 "encoding": {
  "x": {"field": "t", "type": "temporal"},
  "y": {"field": "v", "type": "quantitative"},
  "color": {"datum": "Good", "scale": {"range": ["green"]}, "legend": {"title": null, "orient": "top-right", "offset": 7, "symbolType": "circle", "symbolSize": 25, "symbolOpacity": 0.6, "symbolOffset": 7.5, "labelOffset": 17.5, "padding": 5}}
 }}
]
},
{
"width": 1068, "height": 235,
"data": {"name": "ccf"},
"layer": [
{"mark": {"type": "area", "fill": "orange", "fillOpacity": 0.45, "stroke": "orange", "strokeOpacity": 0.5, "strokeWidth": 1},
 "encoding": {
  "x": {"field": "rv", "type": "quantitative", "scale": {"domain": [-42.875, 31.108], "nice": false, "zero": false}, "axis": {"title": "RV [km/s]", "values": [-40, -30, -20, -10, 0, 10, 20, 30], "tickCount": 10}},
  "y": {"field": "c2l", "type": "quantitative", "scale": {"domain": [0.95666, 1.0329], "nice": false, "zero": false}, "axis": {"title": "Normalized CCF", "values": [0.96, 0.97, 0.98, 0.99, 1.0, 1.01, 1.02, 1.03], "tickCount": 10, "format": ".2f"}},
  "y2": {"field": "c2h"}
 }},
{"mark": {"type": "area", "fill": "red", "fillOpacity": 0.4, "stroke": "red", "strokeOpacity": 0.3, "strokeWidth": 1},
 "encoding": {"x": {"field": "rv", "type": "quantitative"}, "y": {"field": "c1l", "type": "quantitative"}, "y2": {"field": "c1h"}}},
{"mark": {"type": "line", "color": "black", "strokeWidth": 2},
 "encoding": {"x": {"field": "rv", "type": "quantitative"}, "y": {"field": "c", "type": "quantitative"}}},
{"mark": {"type": "line", "strokeDash": [6, 2.5], "strokeWidth": 2, "opacity": 0.8},
 "encoding": {"x": {"field": "rv", "type": "quantitative"}, "y": {"field": "f", "type": "quantitative"},
  "color": {"datum": "Gaussian fit", "scale": {"range": ["#1f77b4"]}, "legend": {"title": null, "orient": "top-right", "offset": 7, "symbolType": "M-2,0H2", "symbolSize": 196, "symbolStrokeWidth": 2, "symbolDash": [6, 2.5], "symbolOpacity": 0.8, "symbolOffset": 9, "labelOffset": 14, "padding": 5}}}}
]
},
{
"width": 1068, "height": 235,
"data": {"name": "ccf"},
"layer": [
{"mark": {"type": "area", "fillOpacity": 0.45, "stroke": "orange", "strokeOpacity": 0.5, "strokeWidth": 1},
 "encoding": {
  "x": {"field": "rv", "type": "quantitative", "scale": {"domain": [-42.875, 31.108], "nice": false, "zero": false}, "axis": {"title": "RV [km/s]", "values": [-40, -30, -20, -10, 0, 10, 20, 30], "tickCount": 10}},
  "y": {"field": "r2l", "type": "quantitative", "scale": {"domain": [-0.0066, 0.03214], "nice": false, "zero": false}, "axis": {"title": "Residuals [to fit]", "values": [-0.005, 0.0, 0.005, 0.01, 0.015, 0.02, 0.025, 0.03], "tickCount": 10, "format": ".3f"}},
  "y2": {"field": "r2h"},
  "fill": {"datum": "2-σ", "scale": {"domain": ["2-σ", "1-σ", "Median residual"], "range": ["orange", "red", "rgba(0,0,0,0)"]},
   "legend": {"title": null, "orient": "none", "legendX": 718, "legendY": 6, "direction": "horizontal", "columns": 3, "columnPadding": 28, "symbolType": "M-2,-0.7H2V0.7H-2Z", "symbolSize": 196, "symbolOffset": 6.5, "labelOffset": 18.5, "symbolOpacity": 0.5, "symbolStrokeWidth": 0, "padding": 5}}
 }},
{"mark": {"type": "area", "fillOpacity": 0.4, "stroke": "red", "strokeOpacity": 0.3, "strokeWidth": 1},
 "encoding": {"x": {"field": "rv", "type": "quantitative"}, "y": {"field": "r1l", "type": "quantitative"}, "y2": {"field": "r1h"}, "fill": {"datum": "1-σ"}}},
{"mark": {"type": "line", "strokeWidth": 2, "opacity": 0.8},
 "encoding": {"x": {"field": "rv", "type": "quantitative"}, "y": {"field": "r", "type": "quantitative"},
  "stroke": {"datum": "Median residual", "scale": {"range": ["#1f77b4"]},
   "legend": {"title": null, "orient": "none", "legendX": 902, "legendY": 6, "symbolType": "M-2,0H2", "symbolSize": 196, "symbolOffset": 6.5, "labelOffset": 0, "labelExpr": "''", "symbolStrokeWidth": 2, "symbolOpacity": 0.8, "labelOpacity": 0, "fillColor": "rgba(0,0,0,0)", "strokeColor": "rgba(0,0,0,0)", "padding": 5}}}}
]
},
{
"width": 1068, "height": 235,
"data": {"name": "ccf"},
"layer": [
{"mark": {"type": "area", "fillOpacity": 0.45, "stroke": "orange", "strokeOpacity": 0.5, "strokeWidth": 1},
 "encoding": {
  "x": {"field": "rv", "type": "quantitative", "scale": {"domain": [-42.875, 31.108], "nice": false, "zero": false}, "axis": {"title": "RV [km/s]", "values": [-40, -30, -20, -10, 0, 10, 20, 30], "tickCount": 10}},
  "y": {"field": "d2l", "type": "quantitative", "scale": {"domain": [-0.00521, 0.0220], "nice": false, "zero": false}, "axis": {"title": "Residuals [To Median]", "values": [-0.005, 0.0, 0.005, 0.01, 0.015, 0.02], "tickCount": 10, "format": ".3f"}},
  "y2": {"field": "d2h"},
  "fill": {"datum": "2-σ", "scale": {"domain": ["2-σ", "1-σ", "Median residual"], "range": ["orange", "red", "rgba(0,0,0,0)"]},
   "legend": {"title": null, "orient": "none", "legendX": 718, "legendY": 6, "direction": "horizontal", "columns": 3, "columnPadding": 28, "symbolType": "M-2,-0.7H2V0.7H-2Z", "symbolSize": 196, "symbolOffset": 6.5, "labelOffset": 18.5, "symbolOpacity": 0.5, "symbolStrokeWidth": 0, "padding": 5}}
 }},
{"mark": {"type": "area", "fillOpacity": 0.4, "stroke": "red", "strokeOpacity": 0.3, "strokeWidth": 1},
 "encoding": {"x": {"field": "rv", "type": "quantitative"}, "y": {"field": "d1l", "type": "quantitative"}, "y2": {"field": "d1h"}, "fill": {"datum": "1-σ"}}},
{"mark": {"type": "line", "strokeWidth": 2, "opacity": 0.8},
 "encoding": {"x": {"field": "rv", "type": "quantitative"}, "y": {"field": "z", "type": "quantitative"},
  "stroke": {"datum": "Median residual", "scale": {"range": ["#1f77b4"]},
   "legend": {"title": null, "orient": "none", "legendX": 902, "legendY": 6, "symbolType": "M-2,0H2", "symbolSize": 196, "symbolOffset": 6.5, "labelOffset": 0, "labelExpr": "''", "symbolStrokeWidth": 2, "symbolOpacity": 0.8, "labelOpacity": 0, "fillColor": "rgba(0,0,0,0)", "strokeColor": "rgba(0,0,0,0)", "padding": 5}}}}
]
}
],
"resolve": {"scale": {"x": "independent", "y": "independent", "color": "independent", "fill": "independent", "stroke": "independent"}, "legend": {"color": "independent", "fill": "independent", "stroke": "independent"}},
"config": {
  "font": "DejaVu Sans",
  "view": {"fill": "#fefce4", "stroke": "#000000", "strokeWidth": 1},
  "axis": {"labelFont": "DejaVu Sans", "titleFont": "DejaVu Sans", "labelFontSize": 13.9, "titleFontSize": 13.9, "titleFontWeight": "normal", "labelColor": "#000000", "titleColor": "#000000", "tickColor": "#000000", "domainColor": "#000000", "tickSize": 5, "tickWidth": 1, "labelPadding": 3, "titlePadding": 5, "grid": true, "gridColor": "#b0b0b0", "gridOpacity": 0.6, "gridDash": [5, 3], "gridWidth": 1, "labelFlush": false, "labelOverlap": false},
  "legend": {"labelFont": "DejaVu Sans", "labelFontSize": 13.9, "labelColor": "#000000", "fillColor": "rgba(255,255,255,0.8)", "strokeColor": "#cccccc", "cornerRadius": 3, "padding": 5}
}
}
